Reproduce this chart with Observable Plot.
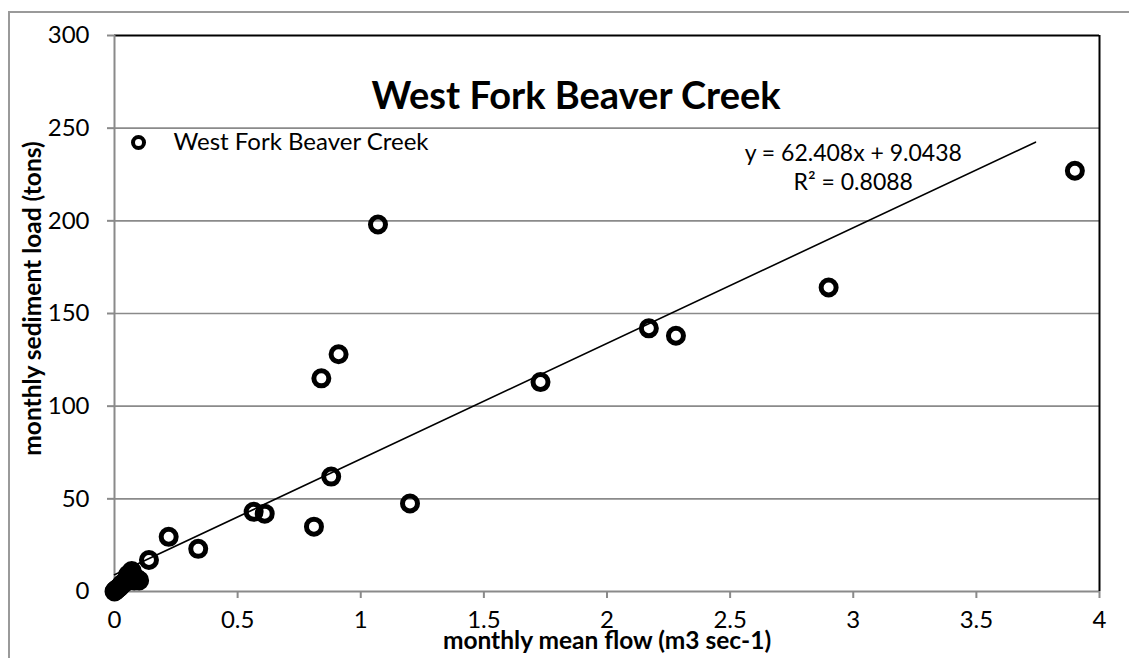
<!DOCTYPE html>
<html>
<head>
<meta charset="utf-8">
<script src="https://cdn.jsdelivr.net/npm/d3@7"></script>
<script src="https://cdn.jsdelivr.net/npm/@observablehq/plot@0.6"></script>
<style>
  html, body { margin: 0; padding: 0; background: #fff; }
  #wrap { position: relative; width: 1129px; height: 658px; overflow: hidden; }
  #border { position: absolute; left: 8px; top: 11px; width: 2000px; height: 2000px;
            border-left: 2px solid #9a9a9a; border-top: 2px solid #9a9a9a; }
  #chart { position: absolute; left: 0; top: 0; }
</style>
</head>
<body>
<div id="wrap"><div id="border"></div><div id="chart"></div></div>
<script>
// ---- data ----
const flow = [0.0, 0.003, 0.008, 0.012, 0.018, 0.025, 0.03, 0.038, 0.045, 0.05, 0.055, 0.06, 0.065, 0.07, 0.075, 0.08, 0.09, 0.1,
              0.14, 0.22, 0.34, 0.565, 0.61, 0.81, 0.84, 0.88, 0.91, 1.07, 1.2, 1.73, 2.17, 2.28, 2.9, 3.9];
const load = [0.0, 0.5, 1.0, 1.5, 2.0, 3.0, 4.0, 4.5, 5.5, 6.0, 9.0, 8.0, 10.0, 11.0, 8.5, 6.0, 7.0, 6.0,
              17, 29.5, 23, 43, 42, 35, 115, 62, 128, 198, 47.5, 113, 142, 138, 164, 227];
const xTicks = [0, 0.5, 1, 1.5, 2, 2.5, 3, 3.5, 4];
const yTicks = [0, 50, 100, 150, 200, 250, 300];
const gridTicks = [50, 100, 150, 200, 250];
const slope = 62.408, intercept = 9.0438, rSquared = 0.8088;
const trendStart = 0, trendEnd = 3.74;   // extent of the drawn trendline, as read
const seriesName = "West Fork Beaver Creek";
const chartTitle = "West Fork Beaver Creek";
const xTitle = "monthly mean flow (m3 sec-1)";
const yTitle = "monthly sediment load (tons)";

const pts = flow.map((f, i) => ({flow: f, load: load[i]}));
const trend = [trendStart, trendEnd].map(x => ({flow: x, load: slope * x + intercept}));
const eqText = `y = ${slope}x + ${intercept}\nR² = ${rSquared}`;

const FONT = "Lato, 'Open Sans', sans-serif";
const GRID = "#8a8a8a";

const chart = Plot.plot({
  width: 1129,
  height: 658,
  marginLeft: 114,
  marginRight: 30,
  marginTop: 35,
  marginBottom: 67,
  style: {fontFamily: FONT, fontSize: "24px", background: "transparent", color: "#000", overflow: "visible"},
  x: {domain: [0, 4], ticks: xTicks},
  y: {domain: [0, 300], ticks: yTicks},
  marks: [
    Plot.gridY(gridTicks, {stroke: GRID, strokeOpacity: 1, strokeWidth: 1.6}),
    Plot.ruleY([0], {stroke: GRID, strokeWidth: 2}),
    Plot.ruleY([300], {stroke: "#000", strokeWidth: 2}),
    Plot.ruleX([0], {stroke: GRID, strokeWidth: 2}),
    Plot.ruleX([4], {stroke: "#000", strokeWidth: 2}),
    Plot.axisX({ticks: xTicks, tickSize: 7, tickPadding: 12, stroke: GRID, strokeWidth: 2, fill: "#000",
                tickFormat: d => String(d), label: null, fontSize: 24}),
    Plot.axisY({ticks: yTicks, tickSize: 7, tickPadding: 18, stroke: GRID, strokeWidth: 2, fill: "#000",
                tickFormat: d => String(d), label: null, fontSize: 24}),
    Plot.line(trend, {x: "flow", y: "load", stroke: "#000", strokeWidth: 1.6}),
    Plot.dot(pts, {x: "flow", y: "load", r: 7.5, stroke: "#000", strokeWidth: 5, fill: "none"}),
    // legend
    Plot.dot([{flow: 0.0975, load: 242.3}], {x: "flow", y: "load", r: 5.5, stroke: "#000", strokeWidth: 4, fill: "none"}),
    Plot.text([seriesName], {x: 0.0975, y: 242.3, dx: 35, text: d => d, textAnchor: "start", fontSize: 24, fill: "#000"}),
    // regression equation
    Plot.text([eqText], {x: 3.0, y: 229.3, text: d => d, textAnchor: "middle", fontSize: 23, lineHeight: 1.22, fill: "#000"}),
    // chart title
    Plot.text([chartTitle], {frameAnchor: "top", dx: -31, dy: 47, text: d => d, fontSize: 38, fontWeight: "bold", fill: "#000"}),
    // axis titles
    Plot.text([xTitle], {frameAnchor: "bottom", dy: 57, text: d => d, fontSize: 24.5, fontWeight: "bold", fill: "#000"}),
    Plot.text([yTitle], {frameAnchor: "left", textAnchor: "middle", dx: -81, dy: -15, rotate: -90, text: d => d, fontSize: 24.5, fontWeight: "bold", fill: "#000"})
  ]
});
document.getElementById("chart").appendChild(chart);
</script>
</body>
</html>
